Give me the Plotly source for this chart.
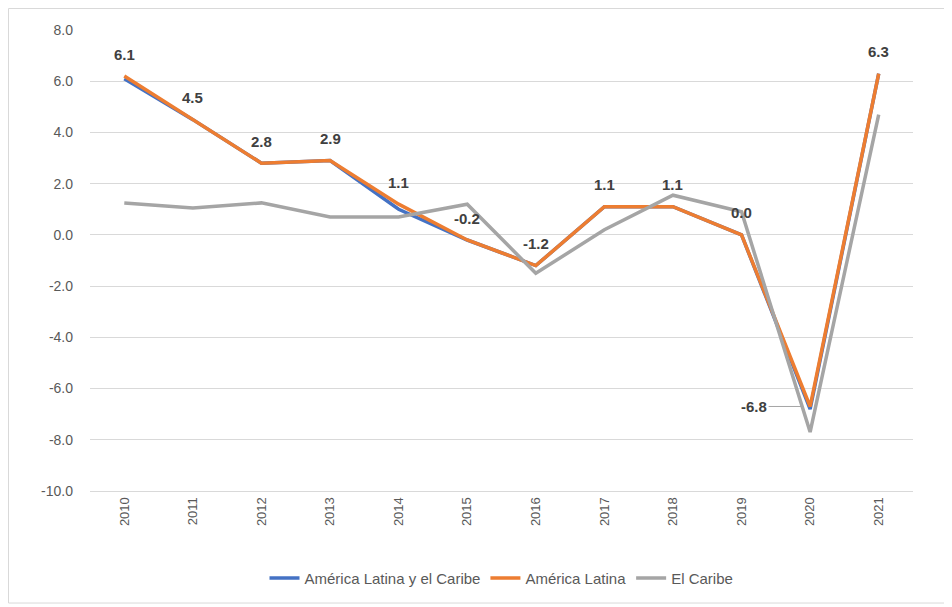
import plotly.graph_objects as go

years = ["2010", "2011", "2012", "2013", "2014", "2015", "2016", "2017", "2018", "2019", "2020", "2021"]
alc = [6.1, 4.5, 2.8, 2.9, 1.0, -0.2, -1.2, 1.1, 1.1, 0.0, -6.8, 6.3]
al = [6.2, 4.5, 2.8, 2.9, 1.2, -0.2, -1.2, 1.1, 1.1, 0.0, -6.7, 6.3]
caribe = [1.25, 1.05, 1.25, 0.7, 0.7, 1.2, -1.5, 0.2, 1.55, 0.9, -7.7, 4.7]
label_vals = [6.1, 4.5, 2.8, 2.9, 1.1, -0.2, -1.2, 1.1, 1.1, 0.0, -6.8, 6.3]
yticks = [8, 6, 4, 2, 0, -2, -4, -6, -8, -10]
yticklabels = ["8.0", "6.0", "4.0", "2.0", "0.0", "-2.0", "-4.0", "-6.0", "-8.0", "-10.0"]

FONT = "Liberation Sans Narrow, Liberation Sans, Arial, sans-serif"

fig = go.Figure()
fig.add_trace(go.Scatter(x=years, y=alc, mode="lines", name="América Latina y el Caribe",
                         line=dict(color="#4472C4", width=3.5)))
fig.add_trace(go.Scatter(x=years, y=al, mode="lines", name="América Latina",
                         line=dict(color="#ED7D31", width=3.5)))
fig.add_trace(go.Scatter(x=years, y=caribe, mode="lines", name="El Caribe",
                         line=dict(color="#A5A5A5", width=3.5)))

annotations = []
for i, (yr, v, base) in enumerate(zip(years, label_vals, al)):
    if yr == "2020":
        annotations.append(dict(x=i, y=base, text=f"<b>{v:.1f}</b>", showarrow=True, arrowhead=0,
                                ax=-56, ay=0, arrowcolor="#A5A5A5", arrowwidth=1, standoff=8,
                                font=dict(family=FONT, size=15, color="#404040")))
    else:
        annotations.append(dict(x=i, y=base, text=f"<b>{v:.1f}</b>", showarrow=False, yshift=22,
                                font=dict(family=FONT, size=15, color="#404040")))

fig.update_layout(
    width=944, height=599,
    margin=dict(l=82, r=39, t=22, b=116),
    paper_bgcolor="white", plot_bgcolor="white",
    font=dict(family=FONT, color="#595959", size=13),
    showlegend=True,
    legend=dict(orientation="h", x=0.5, xanchor="center", y=-0.189, yanchor="middle",
                font=dict(family=FONT, size=15, color="#595959"), traceorder="normal"),
    annotations=annotations,
    shapes=[dict(type="rect", xref="paper", yref="paper", x0=-0.099, x1=1.040, y0=-0.243, y1=1.0466,
                 line=dict(color="#D9D9D9", width=1))],
)
fig.update_xaxes(type="category", range=[-0.5, 11.5], tickangle=-90, showgrid=False, showline=True,
                 linecolor="#D9D9D9", ticks="", tickfont=dict(size=13, color="#595959"))
fig.update_yaxes(range=[-10, 8], tickvals=yticks, ticktext=yticklabels, showgrid=True,
                 gridcolor="#D9D9D9", zeroline=False, showline=False, ticks="",
                 tickfont=dict(size=14, color="#595959"), ticklabelstandoff=16)

fig.write_html("out.html")
